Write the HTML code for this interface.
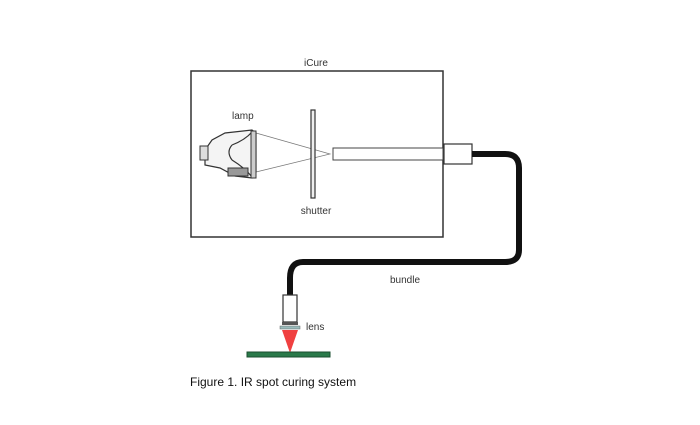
<!DOCTYPE html>
<html><head><style>body{margin:0;background:#fff}</style></head><body>
<svg width="700" height="420" xmlns="http://www.w3.org/2000/svg" font-family="Liberation Sans, sans-serif">
<rect x="191" y="71" width="252" height="166" fill="none" stroke="#333" stroke-width="1.5"/>
<text x="316" y="66" font-size="10" text-anchor="middle" fill="#333">iCure</text>
<text x="232" y="119" font-size="10" fill="#333">lamp</text>
<text x="316" y="214" font-size="10" text-anchor="middle" fill="#333">shutter</text>
<text x="390" y="283" font-size="10" fill="#333">bundle</text>
<text x="306" y="330" font-size="10" fill="#333">lens</text>
<text x="190" y="386" font-size="12" fill="#111">Figure 1. IR spot curing system</text>
<!-- light rays -->
<path d="M256 133 L330 154 L256 172" fill="none" stroke="#777" stroke-width="0.7"/>
<!-- lamp -->
<path d="M205 150 L212 140 L225 133 L252 130 L256 133 L256 172 L252 178 L235 176 L220 168 L205 165 Z" fill="#f4f4f4" stroke="#333" stroke-width="1.2"/>
<path d="M232 145 Q245 140 252 132 M232 160 Q245 168 252 177 M232 145 Q226 152 232 160" fill="none" stroke="#333" stroke-width="1.2"/>
<rect x="200" y="146" width="8" height="14" fill="#ddd" stroke="#333"/>
<rect x="228" y="168" width="20" height="8" fill="#999" stroke="#333"/>
<rect x="251" y="131" width="5" height="47" fill="#ccc" stroke="#333"/>
<!-- shutter -->
<rect x="311" y="110" width="4" height="88" fill="#eee" stroke="#333" stroke-width="1.2"/>
<!-- tube -->
<rect x="333" y="148" width="110" height="12" fill="#fff" stroke="#444"/>
<rect x="444" y="144" width="28" height="20" fill="#fff" stroke="#333" stroke-width="1.2"/>
<!-- cable -->
<path d="M472 154 L505 154 Q519 154 519 168 L519 250 Q519 262 505 262 L303 262 Q290 262 290 278 L290 296" fill="none" stroke="#111" stroke-width="6"/>
<!-- lens -->
<rect x="283" y="295" width="14" height="27" fill="#fff" stroke="#333" stroke-width="1.2"/>
<rect x="282" y="322" width="16" height="3" fill="#555"/>
<rect x="280" y="326" width="20" height="3" fill="#9bb" stroke="#666" stroke-width="0.5"/>
<path d="M282 330 L298 330 L290 353 Z" fill="#f04040"/>
<rect x="247" y="352" width="83" height="5" fill="#2a7a4a" stroke="#1b4f30"/>
</svg>
</body></html>
